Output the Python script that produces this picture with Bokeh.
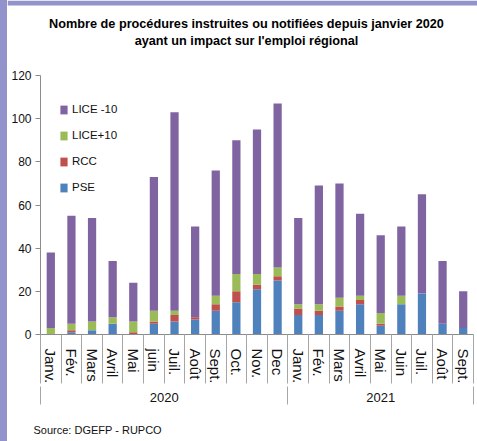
from bokeh.plotting import figure
from bokeh.layouts import row, column
from bokeh.models import (Range1d, LinearAxis, FixedTicker, Label, Spacer,
                          Legend, LegendItem, ColumnDataSource)
from bokeh.embed import file_html
from bokeh.resources import INLINE

# ---------------- data ----------------
years = ["2020"] * 12 + ["2021"] * 9
months = ["Janv.", "Fév.", "Mars", "Avril", "Mai", "juin", "Juil.", "Août", "Sept.", "Oct.", "Nov.", "Dec",
          "Janv.", "Fév.", "Mars", "Avril", "Mai", "Juin", "Juil.", "Août", "Sept."]
pse      = [0, 1, 2, 5, 0, 5, 6, 7, 11, 15, 21, 25, 9, 9, 11, 14, 4, 14, 19, 5, 3]
rcc      = [0, 1, 0, 0, 1, 1, 3, 1, 3, 5, 2, 2, 3, 2, 2, 2, 1, 0, 0, 0, 0]
lice_p10 = [3, 3, 4, 3, 5, 5, 2, 0, 4, 8, 5, 4, 2, 3, 4, 2, 5, 4, 0, 0, 0]
lice_m10 = [35, 50, 48, 26, 18, 62, 92, 42, 58, 62, 67, 76, 40, 55, 53, 38, 36, 32, 46, 29, 17]
series_names = ["PSE", "RCC", "LICE+10", "LICE -10"]
series_colors = ["#4f81bd", "#c0504d", "#9bbb59", "#8064a2"]
y_ticks = [0, 20, 40, 60, 80, 100, 120]
title_lines = ["Nombre de procédures instruites ou notifiées depuis janvier 2020",
               "ayant un impact sur l'emploi régional"]
source_note = "Source: DGEFP - RUPCO"

FONT = "Liberation Sans, Arial, sans-serif"
TXT = "#111111"
FRAME_PURPLE = "#9393cc"

n = len(months)
centers = [i + 0.5 for i in range(n)]          # category centres on a 0..n scale
bounds = [float(i) for i in range(n + 1)]      # category boundaries

src = ColumnDataSource(dict(x=centers, PSE=pse, RCC=rcc,
                            **{"LICE+10": lice_p10, "LICE -10": lice_m10}))


def no_frame_align(fig):
    if "frame_align" in fig.properties():
        fig.frame_align = False


# ---------------- main chart ----------------
p = figure(width=470, height=352, output_backend="svg", toolbar_location=None,
           x_range=Range1d(0, n), y_range=Range1d(0, 120), x_axis_location=None,
           min_border_left=33, min_border_right=4, min_border_top=15, min_border_bottom=78)
no_frame_align(p)
p.outline_line_color = None
p.xgrid.visible = False
p.ygrid.visible = False

renderers = p.vbar_stack(series_names, x="x", width=0.4, color=series_colors,
                         line_color=None, source=src)

ya = p.yaxis[0]
ya.ticker = FixedTicker(ticks=y_ticks)
ya.axis_line_color = "#8c8c8c"
ya.major_tick_line_color = "#8c8c8c"
ya.major_tick_out = 5
ya.major_tick_in = 0
ya.minor_tick_line_color = None
ya.major_label_standoff = 4
ya.major_label_text_font = FONT
ya.major_label_text_font_size = "12px"
ya.major_label_text_color = TXT

# month axis: labels between long boundary ticks
ax_m = LinearAxis(ticker=FixedTicker(ticks=centers, minor_ticks=bounds),
                  major_label_overrides={c: m for c, m in zip(centers, months)},
                  major_label_orientation="vertical",
                  major_tick_line_color=None, major_tick_out=0, major_tick_in=0,
                  minor_tick_out=49, minor_tick_in=0, minor_tick_line_color="#a6a6a6",
                  axis_line_color="#8c8c8c", major_label_standoff=-35,
                  major_label_text_font=FONT, major_label_text_font_size="15px",
                  major_label_text_color=TXT)
p.add_layout(ax_m, "below")

# year axis
year_names = []
for y in years:
    if y not in year_names:
        year_names.append(y)
y_start = [years.index(y) for y in year_names]
y_end = [len(years) - years[::-1].index(y) for y in year_names]
y_centers = [(s + e) / 2 for s, e in zip(y_start, y_end)]
y_bounds = sorted(set([float(s) for s in y_start] + [float(e) for e in y_end]))
ax_y = LinearAxis(ticker=FixedTicker(ticks=y_centers, minor_ticks=y_bounds),
                  major_label_overrides={c: yn for c, yn in zip(y_centers, year_names)},
                  major_tick_line_color=None, major_tick_out=0, major_tick_in=0,
                  minor_tick_out=18, minor_tick_in=0, minor_tick_line_color="#a6a6a6",
                  axis_line_color=None, major_label_standoff=-12,
                  major_label_text_font=FONT, major_label_text_font_size="13px",
                  major_label_text_color=TXT)
p.add_layout(ax_y, "below")

items = [LegendItem(label=name, renderers=[r])
         for name, r in reversed(list(zip(series_names, renderers)))]
legend = Legend(items=items, location=(19, 139), glyph_width=9, glyph_height=11,
                label_height=16, spacing=10, padding=0, margin=0, label_standoff=4,
                border_line_color=None, background_fill_alpha=0,
                label_text_font=FONT, label_text_font_size="11.5px",
                label_text_color=TXT)
p.add_layout(legend)

# ---------------- title strip (page coordinates) ----------------
t = figure(width=470, height=60, output_backend="svg", toolbar_location=None,
           x_range=Range1d(7, 477), y_range=Range1d(60, 0),
           x_axis_location=None, y_axis_location=None,
           min_border=0, min_border_left=0, min_border_right=0,
           min_border_top=0, min_border_bottom=0)
no_frame_align(t)
t.outline_line_color = None
t.grid.visible = False
t.quad(left=[7], right=[477], top=[0], bottom=[5], color=FRAME_PURPLE, line_color=None)
for line, yv in zip(title_lines, [23.5, 40]):
    t.add_layout(Label(x=246, y=yv, text=line, text_align="center", text_baseline="middle",
                       text_font=FONT, text_font_style="bold", text_font_size="12.7px",
                       text_color="#000000"))

# ---------------- source strip (page coordinates) ----------------
s = figure(width=470, height=29, output_backend="svg", toolbar_location=None,
           x_range=Range1d(7, 477), y_range=Range1d(441, 412),
           x_axis_location=None, y_axis_location=None,
           min_border=0, min_border_left=0, min_border_right=0,
           min_border_top=0, min_border_bottom=0)
no_frame_align(s)
s.outline_line_color = None
s.grid.visible = False
s.add_layout(Label(x=33, y=429.5, text=source_note, text_align="left", text_baseline="middle",
                   text_font=FONT, text_font_size="11px", text_color=TXT))

left_strip = Spacer(width=7, height=441, styles={"background-color": FRAME_PURPLE})
layout = row(left_strip, column(t, p, s))

open("out.html", "w").write(file_html(layout, INLINE))
